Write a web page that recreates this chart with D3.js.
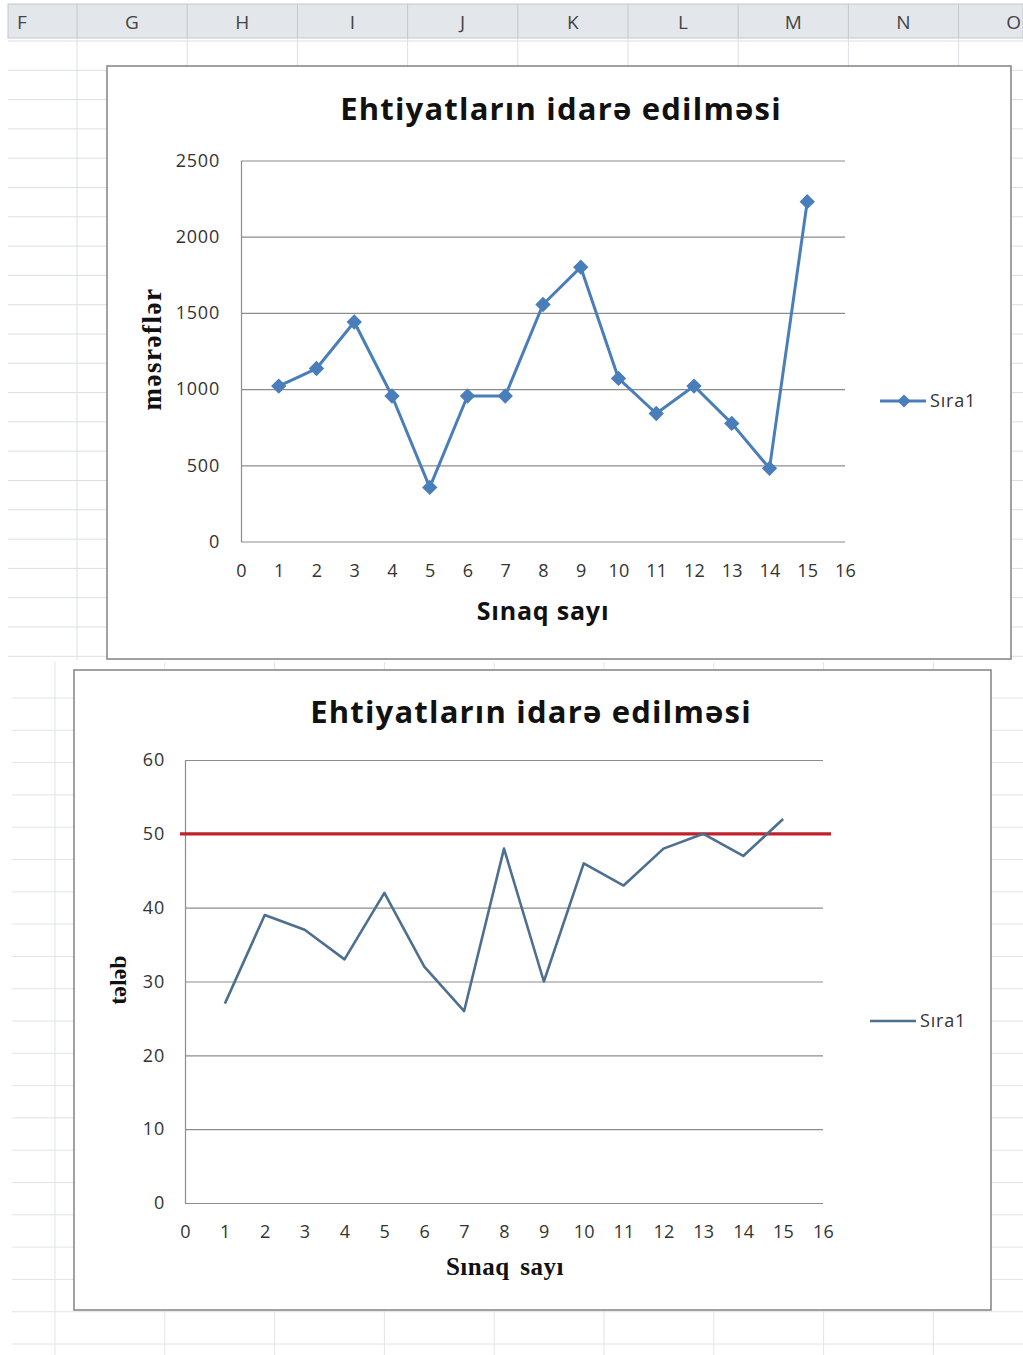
<!DOCTYPE html>
<html>
<head>
<meta charset="utf-8">
<script src="https://cdn.jsdelivr.net/npm/d3@7"></script>
<style>
  body { margin: 0; background: #fff; }
  svg { display: block; }
</style>
</head>
<body>
<div class="viewbox"></div>
<script>
  // chart values
  const trials = [1, 2, 3, 4, 5, 6, 7, 8, 9, 10, 11, 12, 13, 14, 15]
  const costs = [1020, 1135, 1440, 955, 355, 955, 955, 1555, 1800, 1070, 840, 1020, 775, 480, 2230]
  const demand = [27, 39, 37, 33, 42, 32, 26, 48, 30, 46, 43, 48, 50, 47, 52]
  const targetLevel = 50
  const xTicks = [0, 1, 2, 3, 4, 5, 6, 7, 8, 9, 10, 11, 12, 13, 14, 15, 16]
  const costTicks = [0, 500, 1000, 1500, 2000, 2500]
  const demandTicks = [0, 10, 20, 30, 40, 50, 60]
  const columnLetters = ["F", "G", "H", "I", "J", "K", "L", "M", "N", "O"]

  const svg_width = 1023;
  const svg_height = 1355;

  let svg = d3.select(".viewbox")
    .append("svg")
    .attr("width", svg_width)
    .attr("height", svg_height)
    .style("font-family", "'Open Sans', sans-serif")

  ////////////////////////////////////////////////////////////////////////////////
  // spreadsheet behind the charts
  let sheet = svg.append("g").attr("class", "sheet")

  // top screenshot: rows + columns
  d3.range(41, 660, 29.3).forEach(y => {
    sheet.append("line")
      .attr("x1", 8).attr("x2", svg_width).attr("y1", y).attr("y2", y)
      .attr("stroke", "#dcdfe2")
  })
  d3.range(77, svg_width, 110.2).forEach(x => {
    sheet.append("line")
      .attr("x1", x).attr("x2", x).attr("y1", 38).attr("y2", 660)
      .attr("stroke", "#dcdfe2")
  })
  // lower screenshot has its own grid
  d3.range(698, svg_height, 32.3).forEach(y => {
    sheet.append("line")
      .attr("x1", 12).attr("x2", svg_width).attr("y1", y).attr("y2", y)
      .attr("stroke", "#e2e4e6")
  })
  d3.range(55, svg_width, 109.8).forEach(x => {
    sheet.append("line")
      .attr("x1", x).attr("x2", x).attr("y1", 662).attr("y2", svg_height)
      .attr("stroke", "#e2e4e6")
  })

  // column header strip
  sheet.append("rect")
    .attr("x", 8).attr("y", 4).attr("width", svg_width - 8).attr("height", 34)
    .attr("fill", "#e3e7ec").attr("stroke", "#c3c8ce")
  columnLetters.forEach((c, i) => {
    let left = 77 + (i - 1) * 110.2
    if (i > 0) {
      sheet.append("line")
        .attr("x1", left).attr("x2", left).attr("y1", 4).attr("y2", 38)
        .attr("stroke", "#c3c8ce")
    }
    sheet.append("text")
      .attr("x", i === 0 ? 22 : left + 55)
      .attr("y", 29)
      .attr("text-anchor", "middle")
      .style("font-size", "19px")
      .attr("fill", "#444")
      .text(c)
  })

  ////////////////////////////////////////////////////////////////////////////////
  // one excel style line chart
  function drawChart(opt) {
    let g = svg.append("g")

    g.append("rect")
      .attr("x", opt.box[0]).attr("y", opt.box[1])
      .attr("width", opt.box[2]).attr("height", opt.box[3])
      .attr("fill", "#fff")
      .attr("stroke", "#8a8a8a")
      .attr("stroke-width", 1.6)

    let x = d3.scaleLinear().domain([0, 16]).range(opt.xRange)
    let y = d3.scaleLinear().domain(opt.yDomain).range(opt.yRange)

    // horizontal gridlines
    g.append("g")
      .attr("transform", `translate(${opt.xRange[0]},0)`)
      .call(d3.axisLeft(y).tickValues(opt.yTicks).tickSize(-(opt.xRange[1] - opt.xRange[0])).tickFormat(""))
      .call(a => a.select(".domain").remove())
      .call(a => a.selectAll("line").attr("stroke", "#8c8c8c").attr("stroke-width", 1.2))

    // y tick labels (no thousands comma, like excel)
    g.append("g")
      .attr("transform", `translate(${opt.xRange[0]},0)`)
      .call(d3.axisLeft(y).tickValues(opt.yTicks).tickSize(0).tickPadding(opt.yPad).tickFormat(d3.format("d")))
      .call(a => a.select(".domain").attr("stroke", "#8c8c8c").attr("stroke-width", 1.2))
      .call(a => a.selectAll("text")
        .style("font-family", "'Open Sans', sans-serif")
        .style("font-size", "18px")
        .style("letter-spacing", "0.8px")
        .attr("fill", "#333"))

    // x tick labels
    g.append("g")
      .attr("transform", `translate(0,${opt.yRange[0]})`)
      .call(d3.axisBottom(x).tickValues(xTicks).tickSize(0).tickPadding(opt.xPad))
      .call(a => a.select(".domain").remove())
      .call(a => a.selectAll("text")
        .style("font-family", "'Open Sans', sans-serif")
        .style("font-size", "18px")
        .style("letter-spacing", "0.3px")
        .attr("fill", "#333"))

    // title + axis titles
    g.append("text")
      .attr("x", opt.titlePos[0]).attr("y", opt.titlePos[1])
      .attr("text-anchor", "middle")
      .style("font-size", "31px")
      .style("letter-spacing", "1.2px")
      .style("font-weight", "bold")
      .attr("fill", "#111")
      .text("Ehtiyatların idarə edilməsi")

    g.append("text")
      .attr("x", opt.xTitlePos[0]).attr("y", opt.xTitlePos[1])
      .attr("text-anchor", "middle")
      .style("font-family", opt.xTitleFont)
      .style("font-size", opt.xTitleSize)
      .style("letter-spacing", opt.xTitleSpacing)
      .style("word-spacing", opt.xTitleWordGap)
      .style("font-weight", "bold")
      .attr("fill", "#111")
      .text("Sınaq sayı")

    g.append("text")
      .attr("transform", `translate(${opt.yTitlePos[0]},${opt.yTitlePos[1]}) rotate(-90)`)
      .attr("text-anchor", "middle")
      .style("font-family", "'Liberation Serif', serif")
      .style("font-size", opt.yTitleSize)
      .style("letter-spacing", opt.yTitleSpacing)
      .style("font-weight", "bold")
      .attr("fill", "#111")
      .text(opt.yTitle)

    let line = d3.line()
      .x((d, i) => x(trials[i]))
      .y(d => y(d))

    // reference level drawn under the series
    if (opt.target !== undefined) {
      g.append("line")
        .attr("x1", opt.xRange[0] - 5).attr("x2", opt.xRange[1] + 8)
        .attr("y1", y(opt.target)).attr("y2", y(opt.target))
        .attr("stroke", "#c0222c")
        .attr("stroke-width", 3.2)
    }

    g.append("path")
      .datum(opt.values)
      .attr("d", line)
      .attr("fill", "none")
      .attr("stroke", opt.color)
      .attr("stroke-width", opt.lineWidth)
      .attr("stroke-linejoin", "round")

    if (opt.markers) {
      g.selectAll(".mark")
        .data(opt.values)
        .enter()
        .append("path")
        .attr("class", "mark")
        .attr("d", d3.symbol(d3.symbolDiamond2, 150))
        .attr("transform", (d, i) => `translate(${x(trials[i])},${y(d)})`)
        .attr("fill", opt.color)
    }

    // legend
    let lg = g.append("g").attr("transform", `translate(${opt.legendPos[0]},${opt.legendPos[1]})`)
    lg.append("line")
      .attr("x1", 0).attr("x2", 46)
      .attr("stroke", opt.color)
      .attr("stroke-width", opt.lineWidth)
    if (opt.markers) {
      lg.append("path")
        .attr("d", d3.symbol(d3.symbolDiamond2, 110))
        .attr("transform", "translate(24,0)")
        .attr("fill", opt.color)
    }
    lg.append("text")
      .attr("x", 50).attr("y", 6)
      .style("font-size", "18px")
      .style("letter-spacing", "0.8px")
      .attr("fill", "#333")
      .text("Sıra1")
  }

  drawChart({
    box: [107, 66, 904, 593],
    xRange: [241, 845],
    yRange: [541.5, 160.5],
    yDomain: [0, 2500],
    yTicks: costTicks,
    yPad: 21,
    xPad: 23,
    values: costs,
    color: "#4a7ebb",
    lineWidth: 3,
    markers: true,
    titlePos: [561, 120],
    xTitlePos: [543, 620],
    xTitleFont: "'Open Sans', sans-serif",
    xTitleSize: "25px",
    xTitleSpacing: "0.8px",
    xTitleWordGap: "0px",
    yTitle: "məsrəflər",
    yTitleSize: "27px",
    yTitleSpacing: "1.5px",
    yTitlePos: [161, 349],
    legendPos: [880, 401]
  })

  drawChart({
    box: [74, 670, 917, 640],
    xRange: [185, 823],
    yRange: [1203, 760],
    yDomain: [0, 60],
    yTicks: demandTicks,
    yPad: 20,
    xPad: 22,
    values: demand,
    color: "#4d6f90",
    lineWidth: 2.6,
    markers: false,
    target: targetLevel,
    titlePos: [531, 723],
    xTitlePos: [505, 1275],
    xTitleFont: "'Liberation Serif', serif",
    xTitleSize: "25px",
    xTitleSpacing: "0.5px",
    xTitleWordGap: "4px",
    yTitle: "tələb",
    yTitleSize: "24px",
    yTitleSpacing: "0px",
    yTitlePos: [126, 980],
    legendPos: [870, 1021]
  })
</script>
</body>
</html>
